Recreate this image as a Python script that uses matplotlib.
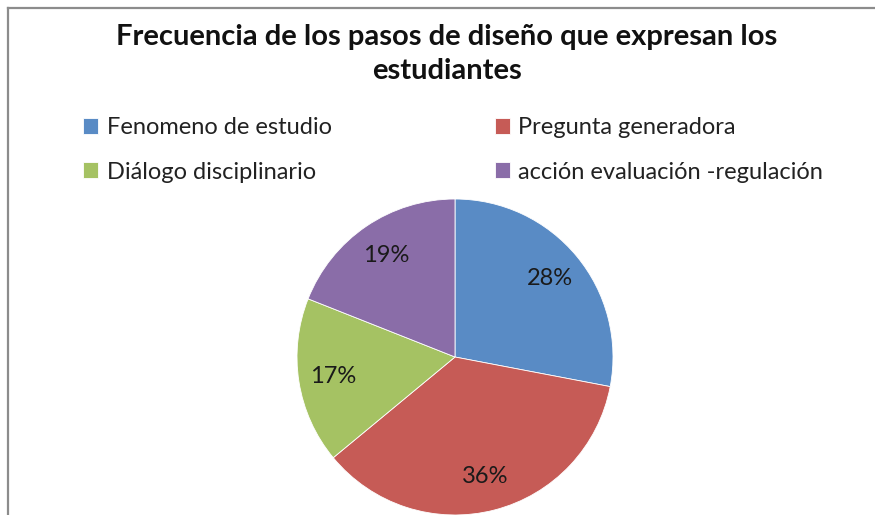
import matplotlib.pyplot as plt
from matplotlib.lines import Line2D

# data
labels = ['Fenomeno de estudio', 'Pregunta generadora',
          'Diálogo disciplinario', 'acción evaluación -regulación']
values = [28, 36, 17, 19]
colors = ['#598BC5', '#C65B56', '#A5C263', '#8A6DA8']
title = 'Frecuencia de los pasos de diseño que expresan los\nestudiantes'

W, H = 875, 515
fig = plt.figure(figsize=(W / 100, H / 100), dpi=100)
plt.rcParams['font.family'] = ['Lato', 'DejaVu Sans']

# chart frame (only left and top edges are visible in the crop)
fig.add_artist(Line2D([8 / W, 8 / W], [0, 1 - 8 / H], transform=fig.transFigure,
                      color='#8c8c8c', lw=1.6))
fig.add_artist(Line2D([8 / W, 1], [1 - 8 / H, 1 - 8 / H], transform=fig.transFigure,
                      color='#8c8c8c', lw=1.6))

fig.text(447 / W, 1 - 54 / H, title, ha='center', va='center',
         fontsize=21, fontweight='bold', linespacing=1.38, color='#111111')

# pie axes: centre (455, 357), radius ~158 px
r = 158
ax = fig.add_axes([(455 - r) / W, (H - 357 - r) / H, 2 * r / W, 2 * r / H])
wedges, texts, autotexts = ax.pie(values, colors=colors, startangle=90, counterclock=False,
                                  autopct='%1.0f%%', pctdistance=0.78,
                                  wedgeprops=dict(edgecolor='white', linewidth=0.6),
                                  textprops=dict(fontsize=17, color='#1a1a1a'))
ax.set_xlim(-1, 1)
ax.set_ylim(-1, 1)
ax.set_aspect('equal')

# legend is filled row by row in the reference
order = [0, 2, 1, 3]
fig.legend([wedges[i] for i in order], [labels[i] for i in order], ncol=2, loc='upper left',
           bbox_to_anchor=(83 / W, 1 - 117 / H), frameon=False,
           fontsize=17, handlelength=0.65, handleheight=0.65, handletextpad=0.35,
           columnspacing=6.9, labelspacing=1.0, borderaxespad=0, borderpad=0,
           labelcolor='#222222')

plt.savefig('out.png', dpi=100)
plt.close(fig)
